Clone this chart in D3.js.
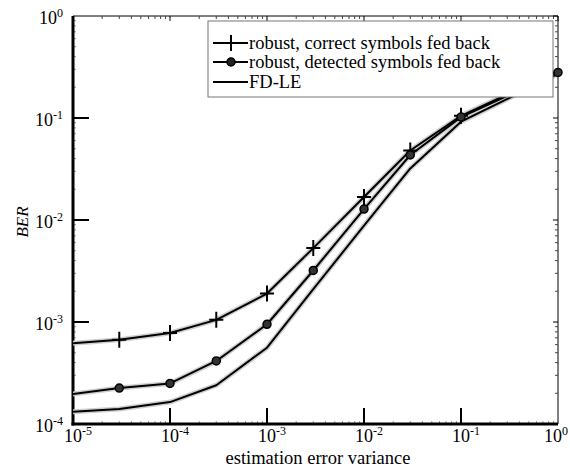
<!DOCTYPE html>
<html>
<head>
<meta charset="utf-8">
<script src="https://cdn.jsdelivr.net/npm/d3@7"></script>
<style>
  body { margin: 0; background: #fff; }
  text { font-family: 'Liberation Serif', 'Times New Roman', serif; fill: #000; }
</style>
</head>
<body>
<svg id="chart"></svg>
<script>
// estimation error variance (x)
const variance = [1e-5, 3e-5, 1e-4, 3e-4, 1e-3, 3e-3, 1e-2, 3e-2, 1e-1, 1]
// BER per curve
const berCorrect  = [6.2e-4, 6.7e-4, 7.8e-4, 1.05e-3, 1.9e-3, 5.3e-3, 0.0168, 0.048, 0.105, 0.29]
const berDetected = [1.97e-4, 2.25e-4, 2.5e-4, 4.15e-4, 9.5e-4, 3.2e-3, 0.0128, 0.0434, 0.102, 0.28]
const berFDLE     = [1.32e-4, 1.4e-4, 1.64e-4, 2.4e-4, 5.6e-4, 2.1e-3, 0.0088, 0.032, 0.092, 0.27]
const legendLabels = ['robust, correct symbols fed back', 'robust, detected symbols fed back', 'FD-LE']
const xTickExp = [-5, -4, -3, -2, -1, 0]
const yTickExp = [-4, -3, -2, -1, 0]

let w = 570, h = 471
let m = { l: 73, r: 12, t: 16, b: 47 }

let svg = d3.select('#chart').attr('width', w).attr('height', h)

let x = d3.scaleLog().domain([1e-5, 1]).range([m.l, w - m.r])
let y = d3.scaleLog().domain([1e-4, 1]).range([h - m.b, m.t])

svg.append('clipPath').attr('id', 'clip')
  .append('rect')
  .attr('x', m.l).attr('y', m.t)
  .attr('width', x.range()[1] - m.l).attr('height', y.range()[0] - m.t)

// minor ticks (2..9 per decade)
let minorX = [], minorY = []
for (let e = -5; e < 0; e++) for (let k = 2; k < 10; k++) minorX.push(k * Math.pow(10, e))
for (let e = -4; e < 0; e++) for (let k = 2; k < 10; k++) minorY.push(k * Math.pow(10, e))

let x0 = x.range()[0], x1 = x.range()[1], y0 = y.range()[0], y1 = y.range()[1]

// frame: top and right thin
svg.append('line').attr('x1', x0).attr('x2', x1).attr('y1', y1).attr('y2', y1).attr('stroke', '#000').attr('stroke-width', 1)
svg.append('line').attr('x1', x1).attr('x2', x1).attr('y1', y1).attr('y2', y0).attr('stroke', '#000').attr('stroke-width', 1)

// top ticks
svg.append('g').selectAll('line').data(minorX).enter().append('line')
  .attr('x1', d => x(d)).attr('x2', d => x(d)).attr('y1', y1).attr('y2', y1 + 3)
  .attr('stroke', '#444').attr('stroke-width', 1)
svg.append('g').selectAll('line').data(xTickExp).enter().append('line')
  .attr('x1', d => x(Math.pow(10, d))).attr('x2', d => x(Math.pow(10, d))).attr('y1', y1).attr('y2', y1 + 5)
  .attr('stroke', '#000').attr('stroke-width', 1)
// right ticks
svg.append('g').selectAll('line').data(minorY).enter().append('line')
  .attr('x1', x1).attr('x2', x1 - 3).attr('y1', d => y(d)).attr('y2', d => y(d))
  .attr('stroke', '#444').attr('stroke-width', 1)
svg.append('g').selectAll('line').data(yTickExp).enter().append('line')
  .attr('x1', x1).attr('x2', x1 - 5).attr('y1', d => y(Math.pow(10, d))).attr('y2', d => y(Math.pow(10, d)))
  .attr('stroke', '#000').attr('stroke-width', 1)
// bottom and left minor ticks
svg.append('g').selectAll('line').data(minorX).enter().append('line')
  .attr('x1', d => x(d)).attr('x2', d => x(d)).attr('y1', y0).attr('y2', y0 - 3)
  .attr('stroke', '#999').attr('stroke-width', 1)
svg.append('g').selectAll('line').data(minorY).enter().append('line')
  .attr('x1', x0).attr('x2', x0 + 3).attr('y1', d => y(d)).attr('y2', d => y(d))
  .attr('stroke', '#999').attr('stroke-width', 1)
// major ticks (long, inward)
svg.append('g').selectAll('line').data(xTickExp.slice(1, -1)).enter().append('line')
  .attr('x1', d => x(Math.pow(10, d))).attr('x2', d => x(Math.pow(10, d))).attr('y1', y0).attr('y2', y0 - 16)
  .attr('stroke', '#000').attr('stroke-width', 2)
svg.append('g').selectAll('line').data(yTickExp.slice(1, -1)).enter().append('line')
  .attr('x1', x0).attr('x2', x0 + 16).attr('y1', d => y(Math.pow(10, d))).attr('y2', d => y(Math.pow(10, d)))
  .attr('stroke', '#000').attr('stroke-width', 2)

// thick left and bottom axes
svg.append('line').attr('x1', x0).attr('x2', x0).attr('y1', y1).attr('y2', y0 + 1.5).attr('stroke', '#000').attr('stroke-width', 3)
svg.append('line').attr('x1', x0 - 1.5).attr('x2', x1).attr('y1', y0).attr('y2', y0).attr('stroke', '#000').attr('stroke-width', 3)

// tick labels: "10" with superscript exponent
const pow10 = (sel, e) => {
  sel.append('tspan').text('10')
  sel.append('tspan').attr('dy', -7).style('font-size', '12px').text(e)
}
svg.append('g').selectAll('text').data(xTickExp).enter().append('text')
  .attr('x', d => Math.min(x(Math.pow(10, d)) - 9, w - 26)).attr('y', y0 + 18)
  .style('font-size', '18px')
  .each(function(d) { pow10(d3.select(this), d) })
svg.append('g').selectAll('text').data(yTickExp).enter().append('text')
  .attr('x', x0 - 10).attr('y', d => y(Math.pow(10, d)) + 8)
  .attr('text-anchor', 'end').style('font-size', '18px')
  .each(function(d) { pow10(d3.select(this), d) })

// axis titles
svg.append('text').attr('x', 318).attr('y', 464).attr('text-anchor', 'middle')
  .style('font-size', '18.5px').text('estimation error variance')
svg.append('text').attr('transform', 'translate(28,222) rotate(-90)').attr('text-anchor', 'middle')
  .style('font-size', '17px').style('font-style', 'italic').text('BER')

// curves
let series = [berCorrect, berDetected, berFDLE]
let line = d3.line().x((d, i) => x(variance[i])).y(d => y(d))
let plot = svg.append('g').attr('clip-path', 'url(#clip)')
plot.selectAll('path.halo').data(series).enter().append('path')
  .attr('d', line).attr('fill', 'none').attr('stroke', '#cfcfcf').attr('stroke-width', 5)
  .attr('stroke-linejoin', 'round')
plot.selectAll('path.curve').data(series).enter().append('path')
  .attr('d', line).attr('fill', 'none').attr('stroke', '#000').attr('stroke-width', 2)
  .attr('stroke-linejoin', 'round')

// cross markers
const crossIdx = [1, 2, 3, 4, 5, 6, 7, 8]
const circleIdx = [1, 2, 3, 4, 5, 6, 7, 8, 9]
svg.append('g').selectAll('path').data(crossIdx).enter().append('path')
  .attr('d', i => `M${x(variance[i])},${y(berCorrect[i]) - 8}v16M${x(variance[i]) - 7},${y(berCorrect[i])}h14`)
  .attr('stroke', '#000').attr('stroke-width', 2).attr('fill', 'none')

// legend
let lg = svg.append('g')
lg.append('rect').attr('x', 208).attr('y', 21).attr('width', 345).attr('height', 76)
  .attr('fill', '#fff').attr('stroke', '#777').attr('stroke-width', 1)
let rowY = [43, 62, 82]
legendLabels.forEach((t, i) => {
  lg.append('line').attr('x1', 213).attr('x2', 248).attr('y1', rowY[i]).attr('y2', rowY[i])
    .attr('stroke', '#000').attr('stroke-width', 2)
  lg.append('text').attr('x', 249).attr('y', rowY[i] + 6).style('font-size', '18.5px').text(t)
})
lg.append('path').attr('d', `M231,${rowY[0] - 8}v16`).attr('stroke', '#000').attr('stroke-width', 2)
lg.append('circle').attr('cx', 231).attr('cy', rowY[1]).attr('r', 4)
  .attr('fill', '#222').attr('stroke', '#000').attr('stroke-width', 1.5)

// circle markers
svg.append('g').selectAll('circle').data(circleIdx).enter().append('circle')
  .attr('cx', i => x(variance[i])).attr('cy', i => y(berDetected[i])).attr('r', 4)
  .attr('fill', '#333').attr('stroke', '#000').attr('stroke-width', 1.5)
</script>
</body>
</html>
